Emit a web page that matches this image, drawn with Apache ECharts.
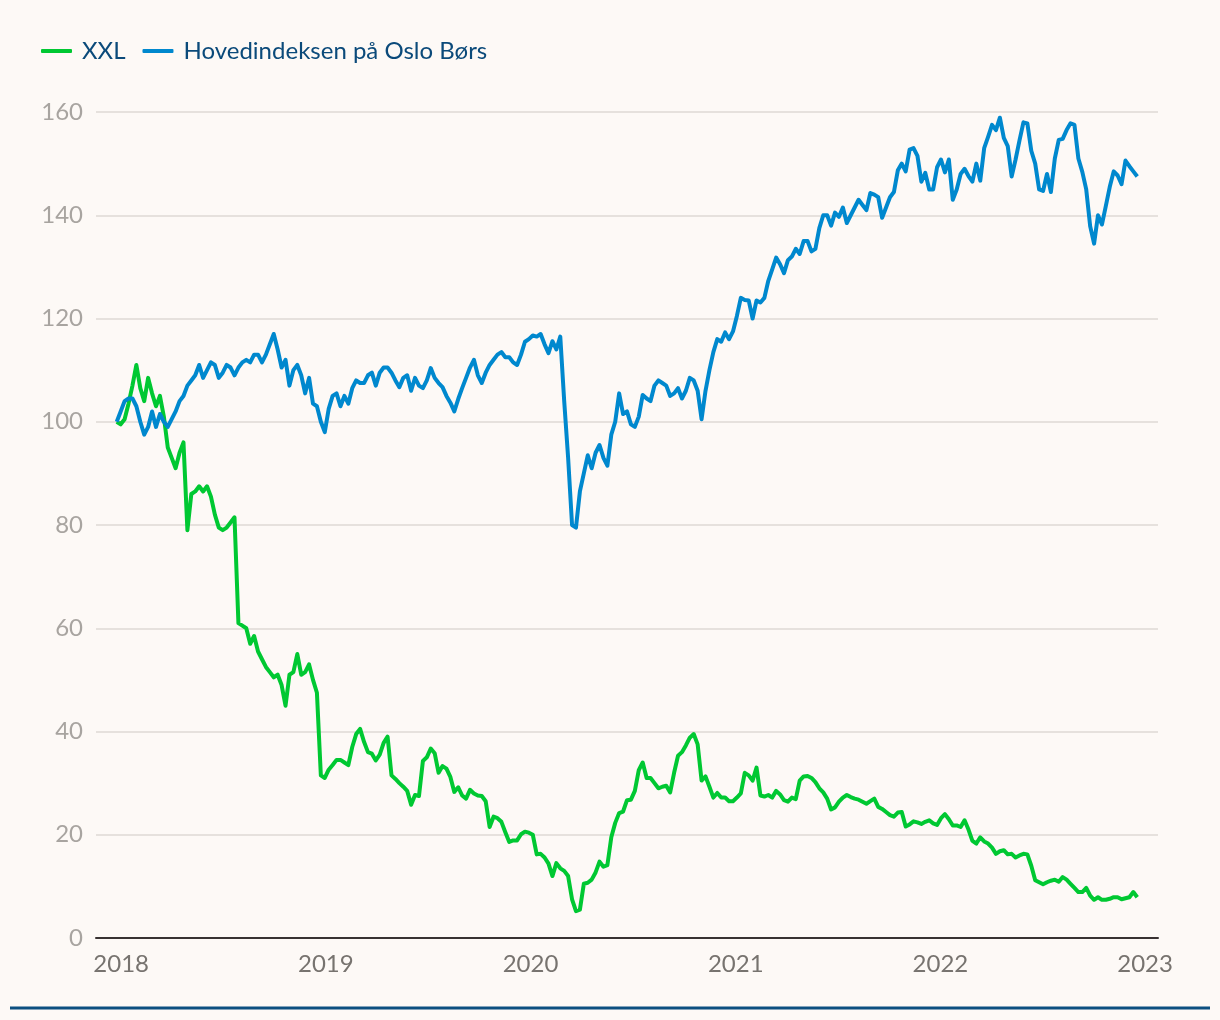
<!DOCTYPE html>
<html><head><meta charset="utf-8">
<script src="https://cdn.jsdelivr.net/npm/echarts@6/dist/echarts.min.js"></script>
<style>html,body{margin:0;padding:0;background:#fdf9f6;} #c{width:1220px;height:1020px;}</style>
</head><body><div id="c"></div>
<script>
// Weekly observations starting on this date (one value per week)
const firstWeek = [2018, 0, 2];
const yearTicks = [2018, 2019, 2020, 2021, 2022, 2023];
const seriesNames = ['XXL', 'Hovedindeksen på Oslo Børs'];

const xxl = [
  100, 99.5, 100.5, 103.5, 107, 111, 106.5, 104, 108.5, 105.5,
  103, 105, 101, 95, 93, 91, 94, 96, 79, 86,
  86.5, 87.5, 86.5, 87.5, 85.5, 82, 79.5, 79, 79.5, 80.5,
  81.5, 61, 60.5, 60, 57, 58.5, 55.5, 54, 52.5, 51.5,
  50.5, 51, 49, 45, 51, 51.5, 55, 51, 51.5, 53,
  50, 47.5, 31.5, 31, 32.6, 33.5, 34.5, 34.5, 34, 33.5,
  37, 39.5, 40.5, 38, 36, 35.7, 34.4, 35.5, 37.8, 39,
  31.5, 30.8, 30, 29.3, 28.5, 25.8, 27.7, 27.5, 34.3, 35,
  36.7, 35.8, 32, 33.3, 32.8, 31.2, 28.3, 29.2, 27.6, 27,
  28.7, 28, 27.6, 27.5, 26.5, 21.5, 23.5, 23.2, 22.5, 20.5,
  18.6, 18.9, 18.9, 20.1, 20.6, 20.4, 20, 16.2, 16.3, 15.6,
  14.4, 12, 14.5, 13.5, 13, 12, 7.5, 5.2, 5.5, 10.5,
  10.7, 11.3, 12.7, 14.8, 13.8, 14.1, 19.5, 22.3, 24.2, 24.5,
  26.7, 26.8, 28.5, 32.5, 34, 31, 31, 30, 29, 29.3,
  29.5, 28.2, 32, 35.3, 36, 37.3, 38.8, 39.5, 37.5, 30.5,
  31.3, 29.3, 27.2, 28.1, 27.2, 27.2, 26.5, 26.5, 27.2, 28,
  32, 31.5, 30.5, 33, 27.6, 27.4, 27.7, 27.2, 28.5, 27.8,
  26.7, 26.4, 27.2, 26.9, 30.5, 31.3, 31.4, 31, 30.2, 29,
  28.2, 27, 24.9, 25.3, 26.4, 27.2, 27.7, 27.3, 27, 26.8,
  26.4, 26, 26.5, 27, 25.4, 25, 24.4, 23.8, 23.5, 24.3,
  24.4, 21.6, 22, 22.6, 22.4, 22.1, 22.5, 22.8, 22.2, 21.9,
  23.2, 24, 23, 21.8, 21.8, 21.5, 22.8, 21, 18.8, 18.3,
  19.5, 18.7, 18.3, 17.5, 16.3, 16.8, 17, 16.2, 16.3, 15.6,
  16, 16.3, 16.2, 14, 11.2, 10.8, 10.4, 10.8, 11.1, 11.3,
  10.9, 11.8, 11.3, 10.5, 9.7, 8.9, 8.9, 9.7, 8.2, 7.4,
  7.9, 7.4, 7.4, 7.6, 7.9, 7.9, 7.5, 7.7, 7.9, 8.9, 7.9
];

const obx = [
  100, 102, 104, 104.5, 104.5, 103, 100, 97.5, 99, 102,
  99, 101.5, 100, 99, 100.5, 102, 104, 105, 107, 108,
  109, 111, 108.5, 110, 111.5, 111, 108.5, 109.5, 111, 110.5,
  109, 110.5, 111.5, 112, 111.5, 113, 113, 111.5, 113, 115,
  117, 114, 110.5, 112, 107, 110, 111, 109, 105.5, 108.5,
  103.5, 103, 100, 98, 102.5, 105, 105.5, 103, 105, 103.5,
  106.5, 108, 107.5, 107.5, 109, 109.5, 107, 109.5, 110.5, 110.5,
  109.5, 108, 106.7, 108.5, 109, 106, 108.5, 107, 106.5, 108,
  110.4, 108.5, 107.5, 106.7, 105, 103.7, 102, 104.4, 106.5, 108.5,
  110.5, 112, 109, 107.5, 109.5, 111, 112, 113, 113.5, 112.5,
  112.5, 111.5, 111, 113, 115.5, 116, 116.7, 116.5, 117, 115,
  113.3, 115.6, 114, 116.5, 104, 93, 80, 79.5, 86.5, 90,
  93.5, 91, 94, 95.5, 93, 91.5, 97.5, 100, 105.5, 101.5,
  102, 99.5, 99, 101, 105.2, 104.5, 104, 107, 108, 107.5,
  107, 105, 105.5, 106.5, 104.5, 106, 108.5, 108, 106, 100.5,
  106, 110, 113.5, 116, 115.5, 117.3, 116, 117.5, 120.5, 124,
  123.6, 123.5, 120, 123.5, 123.1, 124, 127.3, 129.5, 131.8, 130.5,
  128.8, 131.3, 132, 133.5, 132.5, 135, 135, 133, 133.5, 137.5,
  140, 140, 138, 140.5, 139.7, 141.5, 138.5, 140, 141.5, 143,
  142, 141, 144.3, 144, 143.5, 139.5, 141.5, 143.5, 144.5, 148.7,
  150, 148.5, 152.7, 153, 151.5, 146.5, 148.2, 145, 145, 149.3,
  150.8, 148.3, 150.8, 143, 145, 148, 149, 147.6, 146.5, 150,
  146.7, 153, 155.2, 157.5, 156.5, 158.9, 155, 153.4, 147.5, 150.8,
  154.5, 158, 157.8, 152.5, 150, 145, 144.7, 148, 144.5, 151,
  154.6, 154.8, 156.5, 157.8, 157.5, 151, 148.4, 145, 137.9, 134.5,
  140, 138.2, 141.8, 145.5, 148.5, 147.7, 146, 150.6, 149.5, 148.5, 147.5
];

const DAY = 86400000;
const t0 = Date.UTC(firstWeek[0], firstWeek[1], firstWeek[2]);
const weeks = xxl.map((_, i) => t0 + i * 7 * DAY);
const toPairs = vals => vals.map((v, i) => [weeks[i], v]);

const chart = echarts.init(document.getElementById('c'), null, {renderer: 'canvas'});
const font = 'Lato, "Open Sans", sans-serif';
chart.setOption({
  animation: false,
  backgroundColor: '#fdf9f6',
  color: ['#00c832', '#0088ce'],
  legend: {
    left: 36, top: 32,
    icon: 'roundRect',
    itemWidth: 31, itemHeight: 4, itemGap: 17,
    data: seriesNames,
    textStyle: {color: '#0b4a7a', fontSize: 24, fontFamily: font, padding: [0, 0, 0, 5], lineHeight: 28}
  },
  grid: {left: 96, right: 62, top: 112, bottom: 82},
  xAxis: {
    type: 'value',
    min: Date.UTC(2017, 10, 26),
    max: Date.UTC(2023, 1, 2),
    axisLine: {lineStyle: {color: '#383232', width: 2}},
    axisTick: {show: false},
    splitLine: {show: false},
    axisLabel: {
      customValues: yearTicks.map(y => Date.UTC(y, 0, 1)),
      formatter: v => String(new Date(v).getUTCFullYear()),
      color: '#77736f', fontSize: 24, fontFamily: font, margin: 14,
      padding: [0, 0, 0, 10]
    }
  },
  yAxis: {
    type: 'value', min: 0, max: 160, interval: 20,
    axisLine: {show: false},
    axisTick: {show: false},
    axisLabel: {color: '#a8a4a0', fontSize: 24, fontFamily: font, margin: 13},
    splitLine: {lineStyle: {color: '#e6e1dd', width: 2}}
  },
  series: [
    {name: seriesNames[0], type: 'line', showSymbol: false, data: toPairs(xxl),
     lineStyle: {width: 4, color: '#00c832', join: 'round'}, itemStyle: {color: '#00c832'}},
    {name: seriesNames[1], type: 'line', showSymbol: false, data: toPairs(obx),
     lineStyle: {width: 4, color: '#0088ce', join: 'round'}, itemStyle: {color: '#0088ce'}}
  ],
  graphic: [{
    type: 'line', shape: {x1: 10, y1: 1008, x2: 1210, y2: 1008},
    style: {stroke: '#0d4f80', lineWidth: 3}
  }]
});
</script>
</body></html>
